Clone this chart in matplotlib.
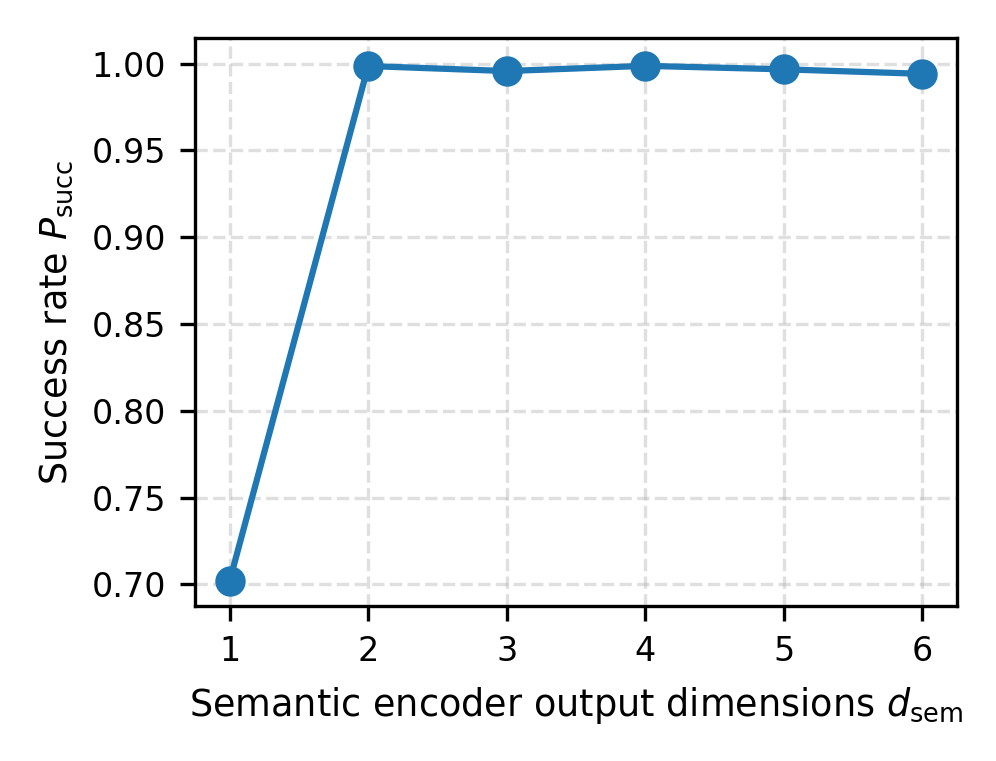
import matplotlib
matplotlib.use("Agg")
import matplotlib.pyplot as plt

dims = [1, 2, 3, 4, 5, 6]
p_succ = [0.7019, 0.9986, 0.9957, 0.9987, 0.9967, 0.9941]
yticks = [0.70, 0.75, 0.80, 0.85, 0.90, 0.95, 1.00]

fig = plt.figure(figsize=(3.32, 2.537), dpi=300)
ax = fig.add_axes([195/996, 1-606/761, (957-195)/996, (606-38)/761])
ax.plot(dims, p_succ, marker='o', color='#1f77b4', linewidth=1.5, markersize=6.3)
ax.set_xticks(dims)
ax.set_yticks(yticks)
ax.set_yticklabels([f"{v:.2f}" for v in yticks])
ax.tick_params(labelsize=8, width=0.8, length=3.5)
for s in ax.spines.values():
    s.set_linewidth(0.8)
ax.grid(True, linestyle='--', alpha=0.4, linewidth=0.8)
ax.set_xlabel(r"Semantic encoder output dimensions $d_{\mathrm{sem}}$", fontsize=8.8)
ax.set_ylabel(r"Success rate $P_{\mathrm{succ}}$", fontsize=8.8)
ax.set_xlim(0.75, 6.25)
ax.set_ylim(0.6875, 1.0148)
fig.savefig("out.png", dpi=300)
